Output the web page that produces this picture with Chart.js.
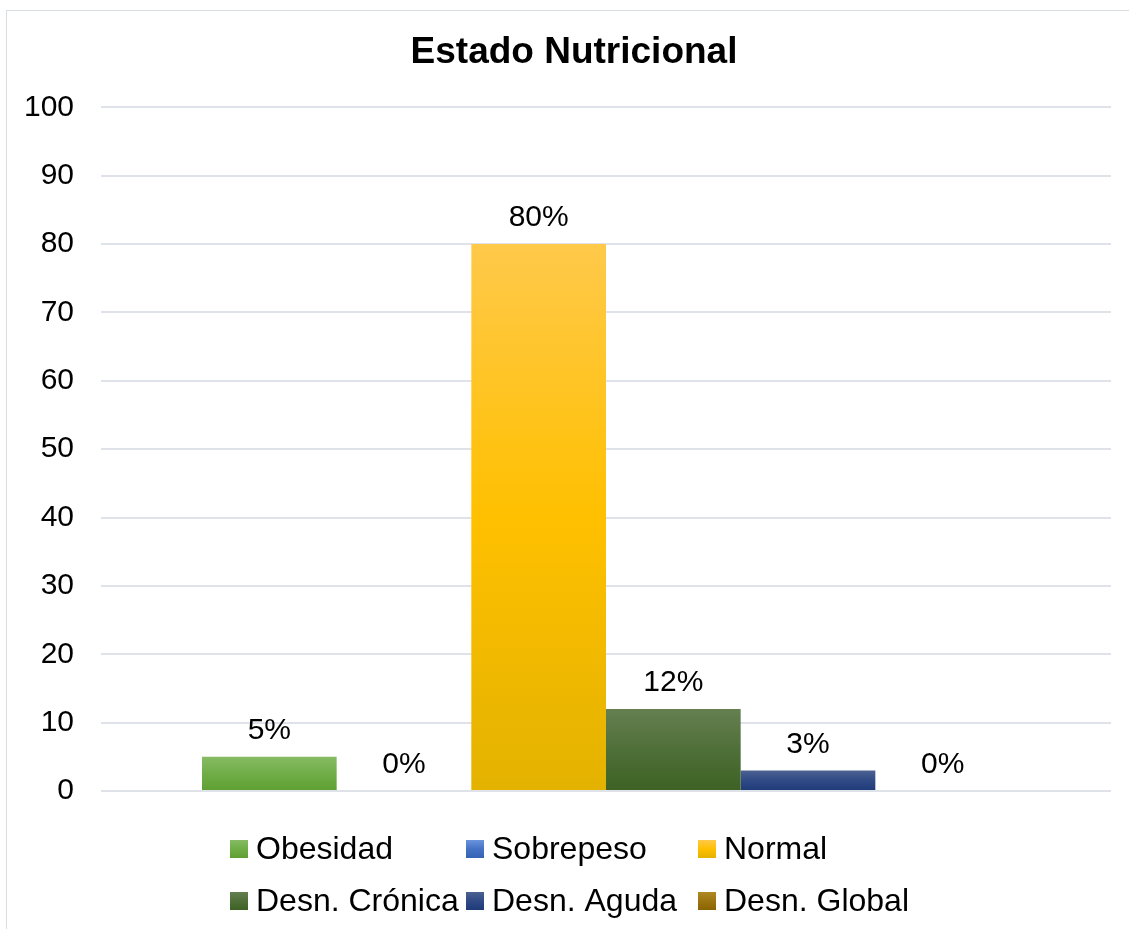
<!DOCTYPE html>
<html>
<head>
<meta charset="utf-8">
<script src="https://cdn.jsdelivr.net/npm/chart.js@4.4.1/dist/chart.umd.min.js"></script>
<style>
  html, body { margin: 0; padding: 0; background: #fff; overflow: hidden; }
  #caja { position: absolute; left: 6px; top: 10px; width: 1134px; height: 930px;
          border: 1px solid #d9dde4; box-sizing: border-box; }
  #grafico { display: block; }
</style>
</head>
<body>
<div id="caja"><canvas id="grafico" width="1134" height="925"></canvas></div>
<script>
(function(){

// ---- datos
const categorias = ["Estado Nutricional"];
const series = ["Obesidad", "Sobrepeso", "Normal", "Desn. Crónica", "Desn. Aguda", "Desn. Global"];
const valores = [5, 0, 80, 12, 3, 0];
const ticksY = [0, 10, 20, 30, 40, 50, 60, 70, 80, 90, 100];

// colores: claro arriba, base, oscuro abajo (degradado tipo Excel)
const colores = [
    ["#86bb64", "#70ad47", "#5e9f33"],
    ["#6a94dc", "#4472c4", "#3562b4"],
    ["#ffc94a", "#ffc000", "#e3b200"],
    ["#657f51", "#4f6f38", "#3d6224"],
    ["#4d6192", "#2f4a85", "#1e3a78"],
    ["#ae8a24", "#9c7510", "#8a6400"]
];

const fuente = "'Liberation Sans', Arial, sans-serif";

function degradado(ctx, c, y0, y1){
    const g = ctx.createLinearGradient(0, y0, 0, y1);
    g.addColorStop(0, c[0]);
    g.addColorStop(0.5, c[1]);
    g.addColorStop(1, c[2]);
    return g;
}

const datasets = series.map((nom, i) => ({
    label: nom,
    data: [valores[i]],
    backgroundColor: (context) => {
        const chart = context.chart;
        if (!chart.chartArea) return colores[i][1];
        const y = chart.scales.y;
        const yTop = y.getPixelForValue(context.raw);
        const yBot = y.getPixelForValue(0);
        if (yBot - yTop < 1) return colores[i][1];
        return degradado(chart.ctx, colores[i], yTop, yBot);
    },
    borderWidth: 0,
    categoryPercentage: 0.8,
    barPercentage: 1.0
}));

//---- etiquetas encima de cada barra
const etiquetas = {
    id: "etiquetas",
    afterDatasetsDraw(chart){
        const ctx = chart.ctx;
        ctx.save();
        ctx.font = "30px " + fuente;
        ctx.fillStyle = "#000";
        ctx.textAlign = "center";
        ctx.textBaseline = "middle";
        chart.data.datasets.forEach((ds, i) => {
            const bar = chart.getDatasetMeta(i).data[0];
            ctx.fillText(ds.data[0] + "%", bar.x, bar.y - 26);
        });
        ctx.restore();
    }
};

//---- leyenda en 3 columnas, 2 filas
const leyenda = {
    id: "leyenda",
    afterDraw(chart){
        const ctx = chart.ctx;
        const colX = [223, 459, 691];
        const filaY = [838, 890];
        ctx.save();
        ctx.font = "32px " + fuente;
        ctx.textBaseline = "middle";
        series.forEach((nom, i) => {
            const x = colX[i % 3];
            const y = filaY[Math.floor(i / 3)];
            ctx.fillStyle = degradado(ctx, colores[i], y - 9, y + 9);
            ctx.fillRect(x, y - 9, 18, 18);
            ctx.fillStyle = "#000";
            ctx.fillText(nom, x + 26, y + 1);
        });
        ctx.restore();
    }
};

//---- el titulo va un poco a la derecha (como en el original)
const moverTitulo = {
    id: "moverTitulo",
    afterLayout(chart){
        if (chart.titleBlock) {
            chart.titleBlock.left += 6;
            chart.titleBlock.right += 6;
        }
    }
};

new Chart(document.querySelector("#grafico"), {
    type: "bar",
    data: { labels: categorias, datasets: datasets },
    plugins: [etiquetas, leyenda, moverTitulo],
    options: {
        responsive: false,
        animation: false,
        layout: { padding: { left: 18, right: 30, top: 0, bottom: 145 } },
        plugins: {
            legend: { display: false },
            tooltip: { enabled: false },
            title: {
                display: true,
                text: "Estado Nutricional",
                color: "#000",
                font: { family: fuente, size: 37, weight: "bold" },
                padding: { top: 20, bottom: 32 }
            }
        },
        scales: {
            x: { display: false },
            y: {
                min: 0,
                max: 100,
                afterBuildTicks: (axis) => { axis.ticks = ticksY.map(v => ({ value: v })); },
                afterFit: (axis) => { axis.width = 76; },
                grid: { color: "#dfe2e8", lineWidth: 2, drawTicks: false },
                border: { display: false },
                ticks: {
                    color: "#000",
                    padding: 27,
                    font: { family: fuente, size: 30 }
                }
            }
        }
    }
});

})();
</script>
</body>
</html>
